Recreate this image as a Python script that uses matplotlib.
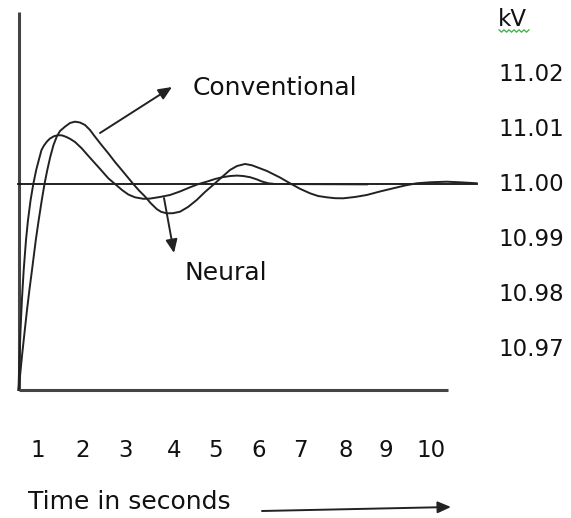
import matplotlib
matplotlib.use("Agg")
import matplotlib.pyplot as plt

# ---------------- data ----------------
conv_t = [0.5523, 0.5776, 0.6396, 0.6970, 0.7475, 0.8026, 0.8623, 0.9495, 1.0161, 1.0872,
          1.1492, 1.2135, 1.2824, 1.3558, 1.4293, 1.5051, 1.6198, 1.7346, 1.8494,
          1.9642, 2.0790, 2.1938, 2.3086, 2.4578, 2.6139, 2.7677, 2.9215, 3.0547, 3.1878,
          3.3187, 3.4564, 3.5827, 3.7250, 3.8237, 3.9546, 4.0992, 4.2599, 4.4436, 4.6433,
          4.8338, 5.0634, 5.2241, 5.4078, 5.5685, 5.7521, 5.9128, 6.0965, 6.2572, 6.5556,
          6.7852, 7.0147, 7.2443, 7.4280, 7.6277, 7.8182, 8.0088, 8.2774, 8.5460, 8.8513,
          9.1566, 9.4252, 9.6938, 9.9991, 10.3825, 10.7338, 11.0712]
conv_kv = [10.96255, 10.96436, 10.96927, 10.97345, 10.97709, 10.98073, 10.98436, 10.98982, 10.99345, 10.99709,
           11.00000, 11.00255, 11.00496, 11.00709, 11.00860, 11.00964, 11.01042, 11.01109, 11.01133,
           11.01118, 11.01073, 11.00982, 11.00860, 11.00709, 11.00558, 11.00400, 11.00255, 11.00127, 11.00000,
           10.99882, 10.99773, 10.99655, 10.99545, 10.99495, 10.99467, 10.99469, 10.99496, 10.99582, 10.99709,
           10.99855, 11.00013, 11.00127, 11.00255, 11.00327, 11.00364, 11.00340, 11.00285, 11.00236, 11.00118,
           11.00013, 10.99913, 10.99831, 10.99782, 10.99758, 10.99742, 10.99740, 10.99764, 10.99800, 10.99864,
           10.99922, 10.99973, 11.00013, 11.00031, 11.00042, 11.00029, 11.00013]

neural_t = [0.5523, 0.5730, 0.5983, 0.6304, 0.6717, 0.7245, 0.7704, 0.8301, 0.8921, 0.9587,
            1.0184, 1.0804, 1.1377, 1.2066, 1.2755, 1.3673, 1.4591, 1.5510, 1.6428, 1.7346,
            1.8494, 2.0032, 2.1479, 2.3086, 2.4463, 2.6139, 2.7677, 2.9284, 3.0730, 3.2268,
            3.4174, 3.5712, 3.8008, 4.0303, 4.2599, 4.4895, 4.6731, 4.8729, 5.0634, 5.2241,
            5.4078, 5.5685, 5.7131, 5.8669, 6.0207, 6.1423, 6.2869, 6.4407, 8.5529]
neural_kv = [10.96255, 10.96800, 10.97345, 10.97891, 10.98436, 10.98982, 10.99345, 10.99709, 11.00000, 11.00255,
             11.00436, 11.00618, 11.00700, 11.00773, 11.00827, 11.00869, 11.00887, 11.00884, 11.00858, 11.00822,
             11.00764, 11.00649, 11.00518, 11.00376, 11.00255, 11.00104, 11.00000, 10.99891, 10.99809, 10.99758,
             10.99731, 10.99735, 10.99764, 10.99800, 10.99864, 10.99940, 10.99996, 11.00042, 11.00091, 11.00122,
             11.00145, 11.00153, 11.00145, 11.00124, 11.00085, 11.00045, 11.00013, 11.00000, 10.99993]

kv_labels = [11.02, 11.01, 11.00, 10.99, 10.98, 10.97]
time_labels = ["1", "2", "3", "4", "5", "6", "7", "8", "9", "10"]
reference_kv = 11.00

# ---------------- layout ----------------
W, H = 571, 518
X_PER_S = 43.56      # pixels per second
Y_PER_KV = 5500.0    # pixels per kV


def tx(px):
    return 1 + (px - 38) / X_PER_S


def ky(py):
    return reference_kv + (184 - py) / Y_PER_KV


fig = plt.figure(figsize=(W / 100, H / 100), dpi=100)
ax = fig.add_axes([0, 0, 1, 1])
ax.set_xlim(tx(0), tx(W))
ax.set_ylim(ky(H), ky(0))
ax.axis("off")

FONT = "DejaVu Sans"
FS = 16.5       # numbers
FS_WORD = 18    # words
TXT = "#111111"

# frame lines
ax.plot([tx(19), tx(19)], [ky(12), ky(390)], color="#444444", lw=2.2, solid_capstyle="butt")
ax.plot([tx(19), tx(448)], [ky(390), ky(390)], color="#444444", lw=2.2, solid_capstyle="butt")
# reference line
ax.plot([tx(18), tx(477)], [reference_kv, reference_kv], color="#111111", lw=1.3)

# curves
ax.plot(conv_t, conv_kv, color="#222222", lw=1.4, solid_joinstyle="round")
ax.plot(neural_t, neural_kv, color="#222222", lw=1.4, solid_joinstyle="round")

# right-hand value labels
for v in kv_labels:
    ax.text(tx(498), v, f"{v:.2f}", fontsize=FS, family=FONT, color=TXT,
            ha="left", va="center")
ax.text(tx(498), ky(19), "kV", fontsize=FS, family=FONT, color=TXT,
        ha="left", va="center")
squig_x = [tx(499 + 2.5 * i) for i in range(13)]
squig_y = [ky(31 + (1.2 if i % 2 else -1.2)) for i in range(13)]
ax.plot(squig_x, squig_y, color="#3cb043", lw=0.9)

# bottom time labels
label_px = [38, 83, 126, 174, 215, 259, 300, 346, 386, 431]
for p, lab in zip(label_px, time_labels):
    ax.text(tx(p), ky(450), lab, fontsize=FS, family=FONT, color=TXT,
            ha="center", va="center")

ax.text(tx(28), ky(502), "Time in seconds", fontsize=FS_WORD, family=FONT,
        color=TXT, ha="left", va="center")

arrow_kw = dict(arrowstyle="-|>,head_length=0.8,head_width=0.35",
                color="#222222", lw=1.4, shrinkA=0, shrinkB=0)
ax.annotate("", xy=(tx(451), ky(507)), xytext=(tx(262), ky(511)),
            arrowprops=arrow_kw)

# annotations
ax.annotate("", xy=(tx(172), ky(87)), xytext=(tx(100), ky(133)),
            arrowprops=arrow_kw)
ax.text(tx(193), ky(88), "Conventional", fontsize=FS_WORD, family=FONT,
        color=TXT, ha="left", va="center")

ax.annotate("", xy=(tx(174), ky(253)), xytext=(tx(164), ky(198)),
            arrowprops=arrow_kw)
ax.text(tx(184), ky(273), "Neural", fontsize=FS_WORD, family=FONT,
        color=TXT, ha="left", va="center")

fig.savefig("out.png", dpi=100)
